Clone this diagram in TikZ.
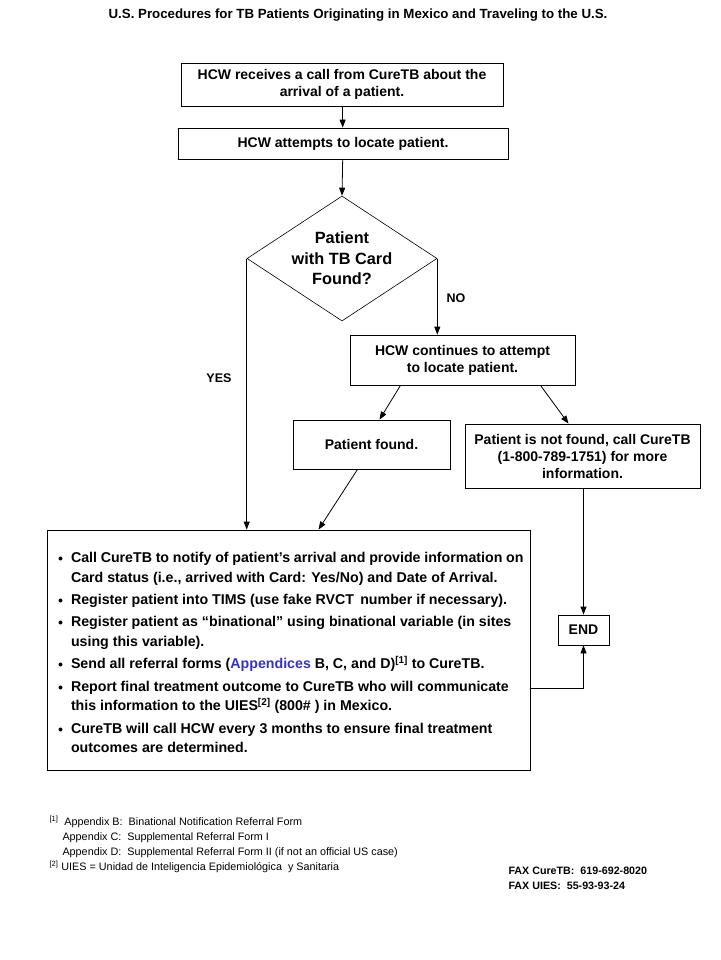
\documentclass[tikz,border=0pt]{standalone}
\usepackage{fontspec}
\setmainfont{Liberation Sans}
\usetikzlibrary{shapes.geometric,arrows.meta,calc}
\definecolor{appblue}{RGB}{51,51,204}
\newcommand{\bitem}[1]{\par\hangindent=17.5pt\hangafter=1\noindent\hspace*{4.5pt}\makebox[13pt][l]{\raisebox{1pt}{\fontsize{10}{10}\selectfont$\bullet$}}#1\par\vspace{2.8pt}}
\begin{document}
\begin{tikzpicture}[x=1pt,y=-1pt,
  box/.style={draw,line width=0.8pt,align=center,font=\fontsize{14}{17}\selectfont\bfseries,inner sep=0pt},
  arr/.style={-{Triangle[length=8pt,width=6pt]},line width=0.8pt},
  lab/.style={font=\fontsize{12.5}{14}\selectfont\bfseries}]
\useasboundingbox (0,0) rectangle (720,960);
\node[font=\fontsize{13.3}{16}\selectfont\bfseries] (title) at (358,15) {U.S. Procedures for TB Patients Originating in Mexico and Traveling to the U.S.};
\node[box,minimum width=322pt,minimum height=43pt] (b1) at (342,84.5) {HCW receives a call from CureTB about the\\arrival of a patient.};
\node[box,minimum width=330pt,minimum height=31pt] (b2) at (343,143.5) {HCW attempts to locate patient.};
\node[draw,diamond,line width=0.6pt,minimum width=190pt,minimum height=125pt,inner sep=0pt] (dia) at (342,258.5) {};
\node[align=center,inner sep=0pt,font=\fontsize{16.3}{20.5}\selectfont\bfseries] (diatext) at (dia.center) {Patient\\with TB Card\\Found?};
\node[box,minimum width=225pt,minimum height=50pt] (b3) at (462.5,360) {HCW continues to attempt\\to locate patient.};
\node[box,minimum width=157pt,minimum height=49pt] (b4) at (371.5,444.5) {Patient found.};
\node[box,minimum width=235pt,minimum height=64pt] (b5) at (582.5,456) {Patient is not found, call CureTB\\(1-800-789-1751) for more\\information.};
\node[box,minimum width=51pt,minimum height=30pt] (end) at (583.5,630) {END};
\node[draw,line width=0.8pt,minimum width=483pt,minimum height=240pt,inner xsep=6.5pt,inner ysep=0pt,font=\fontsize{14.2}{19.6}\selectfont\bfseries] (big) at (288.5,650) {\begin{minipage}{470pt}\raggedright\vspace*{8pt}
\bitem{Call CureTB to notify of patient’s arrival and provide information on\newline Card status (i.e., arrived with Card: Yes/No) and Date of Arrival.}
\bitem{Register patient into TIMS (use fake RVCT\, number if necessary).}
\bitem{Register patient as “binational” using binational variable (in sites\newline using this variable).}
\bitem{Send all referral forms ({\color{appblue}Appendices} B, C, and D)\textsuperscript{[1]} to CureTB.}
\bitem{Report final treatment outcome to CureTB who will communicate\newline this information to the UIES\textsuperscript{[2]} (800\# ) in Mexico.}
\bitem{CureTB will call HCW every 3 months to ensure final treatment\newline outcomes are determined.}
\end{minipage}};
\draw[arr] (b1) -- (b2);
\draw[arr] (b2) -- (dia.north);
\draw[arr] (dia.east) -- (dia.east |- b3.north);
\draw[arr] (dia.west) -- (dia.west |- big.north);
\node[lab] (no) at (456,298) {NO};
\node[lab] (yes) at (219,378) {YES};
\draw[arr] ([xshift=-62pt]b3.south) -- ([xshift=8pt]b4.north);
\draw[arr] ([xshift=78pt]b3.south) -- ([xshift=-14pt]b5.north);
\draw[arr] ([xshift=-14pt]b4.south) -- ([xshift=30pt]big.north);
\draw[arr] (end.north |- b5.south) -- (end.north);
\draw[arr] ([yshift=-38pt]big.east) -| (end.south);
\node[anchor=west,font=\fontsize{10.8}{15}\selectfont,align=left] (fn) at (46,844) {\textsuperscript{[1]}\ \ Appendix B:\ \ Binational Notification\ Referral Form\\
\hspace*{13pt}Appendix C:\ \ Supplemental Referral Form I\\
\hspace*{13pt}Appendix D:\ \ Supplemental Referral Form II (if not an official\ US case)\\
\textsuperscript{[2]} UIES = Unidad de Inteligencia\ Epidemiológica\ \ y Sanitaria};
\node[anchor=west,font=\fontsize{10.7}{15}\selectfont\bfseries,align=left] (fax) at (505,878.5) {FAX CureTB:\ \ 619-692-8020\\FAX UIES:\ \ 55-93-93-24};
\end{tikzpicture}
\end{document}
